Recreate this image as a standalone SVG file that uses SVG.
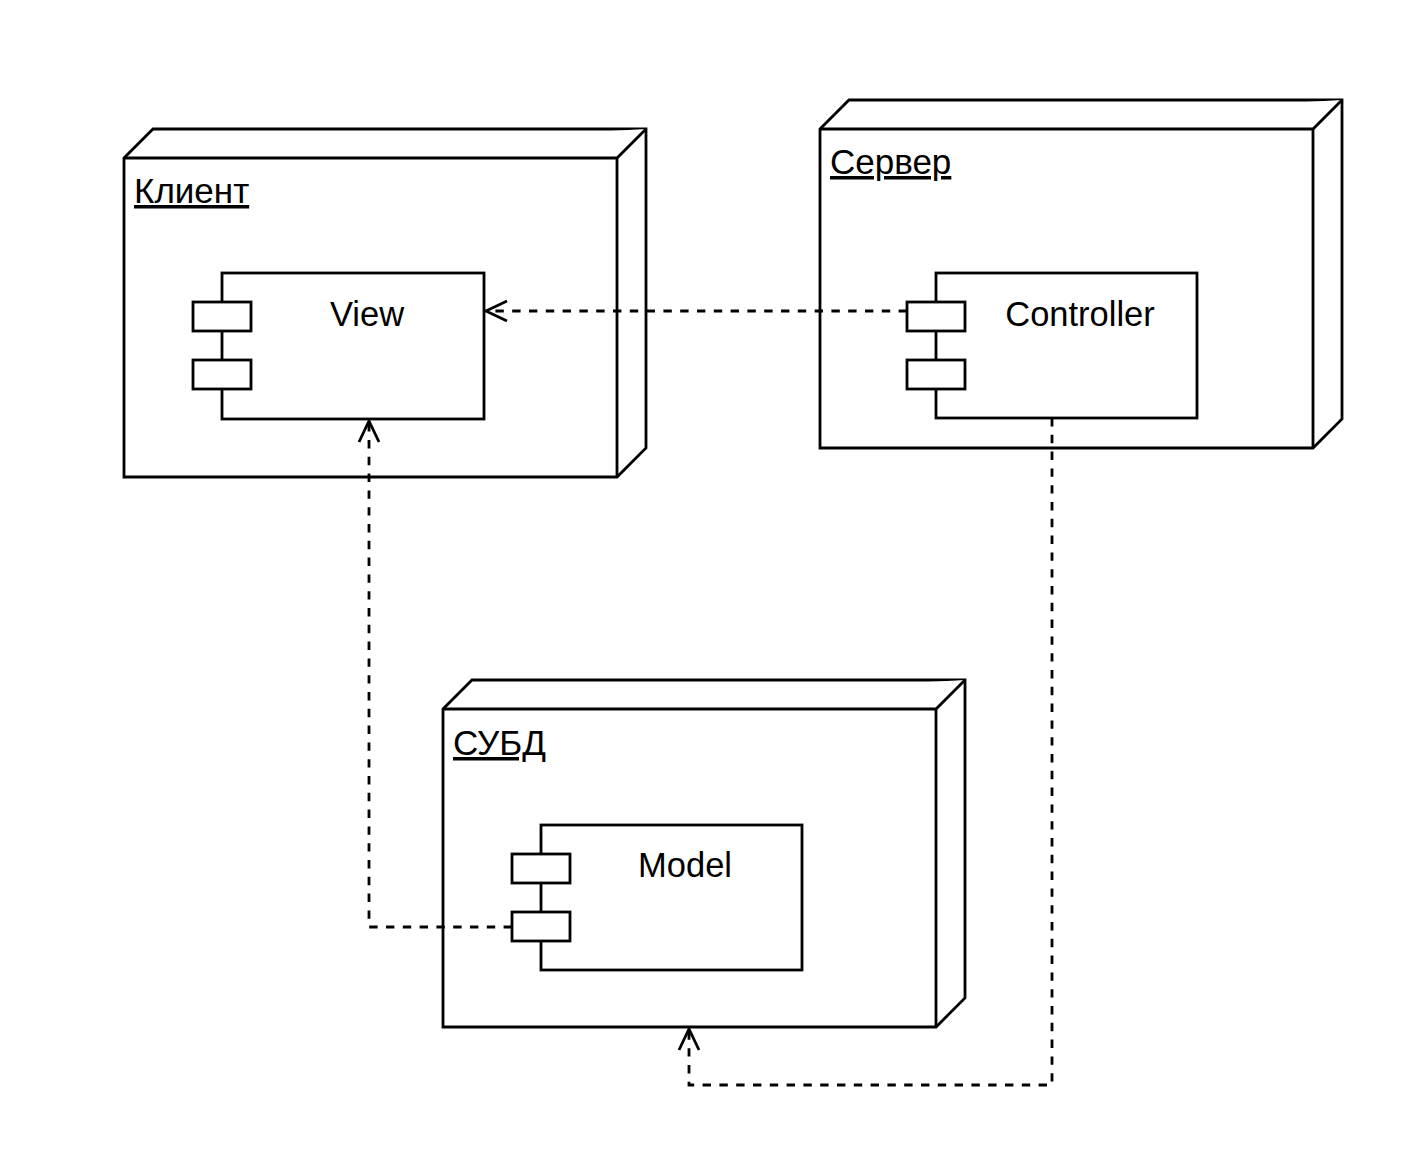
<svg xmlns="http://www.w3.org/2000/svg" width="1406" height="1152" viewBox="0 0 1406 1152">
<defs>
<style>
.box{fill:#fff;stroke:#000;stroke-width:2.8;stroke-linejoin:miter}
.edge{fill:none;stroke:#000;stroke-width:2.8;stroke-dasharray:8.4 8.4}
.head{fill:none;stroke:#000;stroke-width:2.8}
.lbl{font-family:"Liberation Sans",Arial,sans-serif;font-size:34.5px;fill:#000}
.nlbl{font-family:"Liberation Sans",Arial,sans-serif;font-size:35px;fill:#000;text-decoration:underline}
</style>
</defs>
<rect width="1406" height="1152" fill="#fff"/>
<g id="client">
<path class="box" d="M124,158 L153,129 L646,129 L646,448 L617,477 L124,477 Z"/>
<path class="box" d="M124,158 L617,158 L646,129 M617,158 L617,477"/>
<text class="nlbl" x="134" y="203">Клиент</text>
</g>
<g id="server">
<path class="box" d="M820,129 L849,100 L1342,100 L1342,419 L1313,448 L820,448 Z"/>
<path class="box" d="M820,129 L1313,129 L1342,100 M1313,129 L1313,448"/>
<text class="nlbl" x="830" y="174">Сервер</text>
</g>
<g id="dbms">
<path class="box" d="M443,709 L472,680 L965,680 L965,998 L936,1027 L443,1027 Z"/>
<path class="box" d="M443,709 L936,709 L965,680 M936,709 L936,1027"/>
<text class="nlbl" x="453" y="755">СУБД</text>
</g>
<g id="view">
<rect class="box" x="222" y="273" width="262" height="146"/>
<rect class="box" x="193" y="302" width="58" height="29"/>
<rect class="box" x="193" y="360" width="58" height="29"/>
<text class="lbl" x="367" y="326" text-anchor="middle">View</text>
</g>
<g id="controller">
<rect class="box" x="936" y="273" width="261" height="145"/>
<rect class="box" x="907" y="302" width="58" height="29"/>
<rect class="box" x="907" y="360" width="58" height="29"/>
<text class="lbl" x="1080" y="326" text-anchor="middle">Controller</text>
</g>
<g id="model">
<rect class="box" x="541" y="825" width="261" height="145"/>
<rect class="box" x="512" y="854" width="58" height="29"/>
<rect class="box" x="512" y="912" width="58" height="29"/>
<text class="lbl" x="685" y="877" text-anchor="middle">Model</text>
</g>
<g id="connectors">
<path class="edge" d="M907,311 L486,311"/>
<path class="head" d="M507,301 L486,311 L507,321"/>
<path class="edge" d="M512,927 L369,927 L369,421"/>
<path class="head" d="M359,442 L369,421 L379,442"/>
<path class="edge" d="M1052,418 L1052,1085 L689,1085 L689,1029"/>
<path class="head" d="M679,1050 L689,1029 L699,1050"/>
</g>
</svg>
